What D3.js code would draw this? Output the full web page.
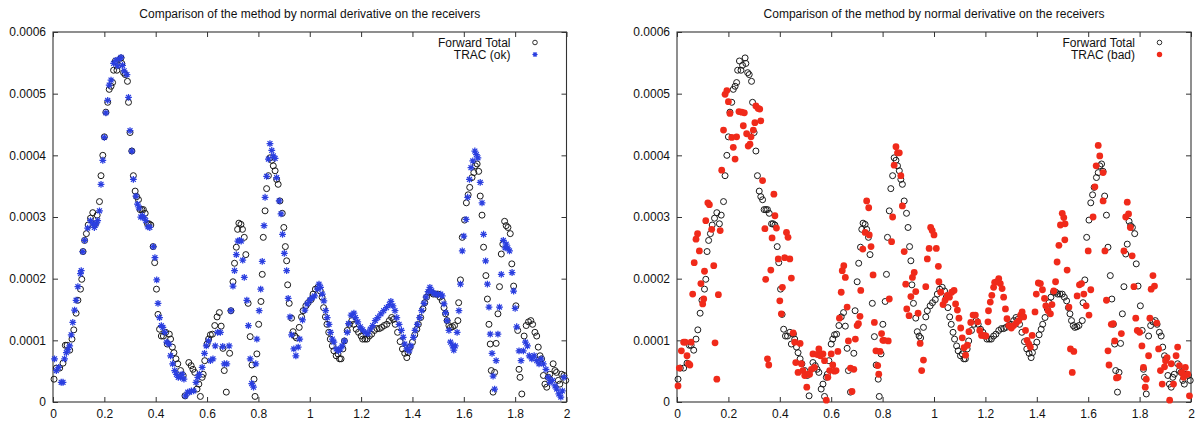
<!DOCTYPE html>
<html>
<head>
<meta charset="utf-8">
<script src="https://cdn.jsdelivr.net/npm/d3@7"></script>
<style>
  html, body { margin: 0; padding: 0; background: #fff; }
  svg { display: block; font-family: "Liberation Sans", Arial, Helvetica, sans-serif; }
</style>
</head>
<body>
<svg id="chart" width="1199" height="424"></svg>
<script>
// ---------------- DATA ----------------
const chartTitle = "Comparison of the method by normal derivative on the receivers";
const seriesNames = ["Forward Total", "TRAC (ok)", "TRAC (bad)"];
const xTicks = [0, 0.2, 0.4, 0.6, 0.8, 1, 1.2, 1.4, 1.6, 1.8, 2];
const xTickLabels = ["0", "0.2", "0.4", "0.6", "0.8", "1", "1.2", "1.4", "1.6", "1.8", "2"];
const yTicks = [0, 0.0001, 0.0002, 0.0003, 0.0004, 0.0005, 0.0006];
const yTickLabels = ["0", "0.0001", "0.0002", "0.0003", "0.0004", "0.0005", "0.0006"];

// Forward Total: [x, value]
const forwardTotal = [
[0.004,0.37e-4],[0.013,0.55e-4],[0.026,0.55e-4],[0.039,0.63e-4],[0.048,0.92e-4],[0.055,0.92e-4],[0.065,0.84e-4],
[0.074,1.02e-4],[0.081,1.17e-4],[0.090,1.44e-4],[0.097,1.65e-4],[0.107,1.83e-4],[0.112,1.99e-4],[0.117,2.44e-4],
[0.123,2.62e-4],[0.130,2.73e-4],[0.137,2.87e-4],[0.146,2.98e-4],[0.155,3.07e-4],[0.165,2.89e-4],[0.172,3.03e-4],
[0.181,3.25e-4],[0.187,3.67e-4],[0.194,4.00e-4],[0.200,4.30e-4],[0.206,4.70e-4],[0.213,4.86e-4],[0.219,5.07e-4],
[0.226,5.12e-4],[0.232,5.18e-4],[0.236,5.38e-4],[0.243,5.53e-4],[0.249,5.38e-4],[0.255,5.46e-4],[0.265,5.58e-4],
[0.268,5.49e-4],[0.275,5.34e-4],[0.281,5.31e-4],[0.290,5.20e-4],[0.294,4.86e-4],[0.300,4.37e-4],[0.307,4.07e-4],
[0.313,3.67e-4],[0.320,3.42e-4],[0.326,3.33e-4],[0.333,3.28e-4],[0.339,3.12e-4],[0.346,3.12e-4],[0.352,3.12e-4],
[0.359,3.06e-4],[0.368,2.89e-4],[0.374,2.89e-4],[0.381,2.87e-4],[0.390,2.52e-4],[0.396,2.26e-4],[0.403,1.83e-4],
[0.409,1.42e-4],[0.415,1.18e-4],[0.422,1.07e-4],[0.430,1.07e-4],[0.439,1.13e-4],[0.445,0.94e-4],[0.453,1.10e-4],
[0.458,1.02e-4],[0.465,0.89e-4],[0.471,0.80e-4],[0.479,0.70e-4],[0.486,0.62e-4],[0.497,0.51e-4],[0.507,0.43e-4],
[0.514,0.10e-4],[0.529,0.64e-4],[0.538,0.59e-4],[0.545,0.53e-4],[0.552,0.48e-4],[0.561,0.21e-4],[0.568,0.29e-4],
[0.574,0.09e-4],[0.581,0.40e-4],[0.585,0.45e-4],[0.591,0.67e-4],[0.600,0.94e-4],[0.606,1.02e-4],[0.613,1.09e-4],
[0.621,1.10e-4],[0.630,1.24e-4],[0.639,1.38e-4],[0.648,1.45e-4],[0.655,1.23e-4],[0.662,0.87e-4],[0.667,0.51e-4],
[0.675,0.16e-4],[0.688,0.79e-4],[0.693,1.48e-4],[0.701,1.95e-4],[0.707,2.25e-4],[0.714,2.51e-4],[0.719,2.80e-4],
[0.724,2.90e-4],[0.732,2.88e-4],[0.738,2.80e-4],[0.745,2.67e-4],[0.751,2.39e-4],[0.760,1.60e-4],[0.768,1.06e-4],
[0.775,0.60e-4],[0.783,0.37e-4],[0.787,0.09e-4],[0.794,0.78e-4],[0.801,1.26e-4],[0.810,1.63e-4],[0.815,2.07e-4],
[0.819,2.67e-4],[0.826,3.10e-4],[0.832,3.46e-4],[0.839,3.67e-4],[0.845,3.96e-4],[0.852,3.92e-4],[0.858,3.83e-4],
[0.865,3.75e-4],[0.871,3.61e-4],[0.877,3.53e-4],[0.884,3.26e-4],[0.893,3.06e-4],[0.899,2.83e-4],[0.905,2.52e-4],
[0.910,2.29e-4],[0.914,1.90e-4],[0.920,1.60e-4],[0.929,1.36e-4],[0.935,1.14e-4],[0.942,1.07e-4],[0.948,1.04e-4],
[0.959,1.21e-4],[0.968,1.38e-4],[0.974,1.48e-4],[0.985,1.56e-4],[0.994,1.61e-4],[1.005,1.66e-4],[1.013,1.75e-4],
[1.022,1.83e-4],[1.032,1.86e-4],[1.041,1.80e-4],[1.048,1.70e-4],[1.054,1.53e-4],[1.061,1.38e-4],[1.067,1.26e-4],
[1.074,1.13e-4],[1.080,1.02e-4],[1.088,0.91e-4],[1.094,0.83e-4],[1.103,0.75e-4],[1.110,0.78e-4],[1.116,0.70e-4],
[1.122,0.70e-4],[1.129,0.86e-4],[1.135,0.99e-4],[1.146,1.16e-4],[1.155,1.26e-4],[1.164,1.32e-4],[1.172,1.26e-4],
[1.181,1.18e-4],[1.190,1.13e-4],[1.200,1.07e-4],[1.206,1.02e-4],[1.215,1.02e-4],[1.223,1.02e-4],[1.232,1.07e-4],
[1.241,1.10e-4],[1.252,1.16e-4],[1.262,1.19e-4],[1.271,1.19e-4],[1.280,1.21e-4],[1.290,1.24e-4],[1.300,1.26e-4],
[1.310,1.32e-4],[1.319,1.37e-4],[1.326,1.34e-4],[1.333,1.26e-4],[1.342,1.13e-4],[1.352,0.98e-4],[1.361,0.86e-4],
[1.370,0.79e-4],[1.378,0.72e-4],[1.383,0.80e-4],[1.391,0.89e-4],[1.400,0.97e-4],[1.409,1.09e-4],[1.417,1.18e-4],
[1.423,1.26e-4],[1.432,1.37e-4],[1.441,1.51e-4],[1.448,1.61e-4],[1.455,1.70e-4],[1.465,1.78e-4],[1.474,1.78e-4],
[1.481,1.75e-4],[1.490,1.75e-4],[1.499,1.75e-4],[1.507,1.70e-4],[1.516,1.64e-4],[1.523,1.53e-4],[1.529,1.43e-4],
[1.535,1.32e-4],[1.542,1.24e-4],[1.548,1.21e-4],[1.556,1.22e-4],[1.564,1.24e-4],[1.577,1.32e-4],[1.580,1.61e-4],
[1.587,1.98e-4],[1.594,2.67e-4],[1.603,2.95e-4],[1.610,3.23e-4],[1.617,3.36e-4],[1.623,3.48e-4],[1.632,3.64e-4],
[1.639,3.72e-4],[1.645,3.83e-4],[1.652,3.86e-4],[1.658,3.74e-4],[1.664,3.34e-4],[1.671,3.03e-4],[1.677,2.51e-4],
[1.686,2.05e-4],[1.692,1.67e-4],[1.698,1.26e-4],[1.703,0.94e-4],[1.707,0.51e-4],[1.714,0.16e-4],[1.720,0.48e-4],
[1.726,0.95e-4],[1.733,1.43e-4],[1.739,1.87e-4],[1.746,2.40e-4],[1.752,2.56e-4],[1.759,2.93e-4],[1.765,2.86e-4],
[1.772,2.83e-4],[1.781,2.73e-4],[1.787,2.24e-4],[1.794,1.88e-4],[1.803,1.56e-4],[1.810,1.16e-4],[1.815,0.53e-4],
[1.819,0.40e-4],[1.826,0.13e-4],[1.835,1.07e-4],[1.843,1.24e-4],[1.852,1.30e-4],[1.861,1.32e-4],[1.868,1.26e-4],
[1.877,1.13e-4],[1.884,1.07e-4],[1.890,0.89e-4],[1.897,0.75e-4],[1.903,0.70e-4],[1.910,0.43e-4],[1.916,0.29e-4],
[1.923,0.24e-4],[1.929,0.40e-4],[1.935,0.45e-4],[1.948,0.62e-4],[1.955,0.51e-4],[1.961,0.48e-4],[1.968,0.35e-4],
[1.974,0.29e-4],[1.981,0.45e-4],[1.990,0.43e-4],[1.997,0.35e-4]
];

// TRAC (ok): [x, value]
const tracOk = [
[0.006,0.70e-4],[0.013,0.51e-4],[0.022,0.56e-4],[0.032,0.32e-4],[0.039,0.32e-4],[0.045,0.70e-4],[0.052,0.80e-4],
[0.058,0.85e-4],[0.065,0.91e-4],[0.071,1.09e-4],[0.077,1.29e-4],[0.084,1.49e-4],[0.090,1.65e-4],[0.097,1.87e-4],
[0.107,2.08e-4],[0.110,2.13e-4],[0.116,2.44e-4],[0.123,2.62e-4],[0.135,2.82e-4],[0.146,2.94e-4],[0.155,2.89e-4],
[0.161,2.83e-4],[0.168,2.89e-4],[0.174,2.94e-4],[0.181,3.10e-4],[0.187,3.53e-4],[0.194,3.92e-4],[0.200,4.29e-4],
[0.206,4.69e-4],[0.213,4.89e-4],[0.219,5.14e-4],[0.226,5.22e-4],[0.236,5.49e-4],[0.245,5.54e-4],[0.252,5.45e-4],
[0.258,5.56e-4],[0.265,5.59e-4],[0.271,5.46e-4],[0.277,5.37e-4],[0.288,5.31e-4],[0.294,4.94e-4],[0.300,4.40e-4],
[0.307,4.07e-4],[0.313,3.61e-4],[0.323,3.34e-4],[0.329,3.21e-4],[0.335,3.15e-4],[0.342,3.00e-4],[0.348,3.02e-4],
[0.355,2.99e-4],[0.361,2.94e-4],[0.370,2.84e-4],[0.377,2.83e-4],[0.391,2.52e-4],[0.397,2.34e-4],[0.404,1.98e-4],
[0.409,1.60e-4],[0.415,1.37e-4],[0.422,1.24e-4],[0.428,1.21e-4],[0.435,1.13e-4],[0.443,0.97e-4],[0.452,0.94e-4],
[0.458,0.75e-4],[0.466,0.62e-4],[0.474,0.51e-4],[0.481,0.45e-4],[0.488,0.40e-4],[0.497,0.40e-4],[0.503,0.45e-4],
[0.510,0.37e-4],[0.516,0.10e-4],[0.525,0.16e-4],[0.532,0.16e-4],[0.539,0.18e-4],[0.548,0.18e-4],[0.557,0.32e-4],
[0.564,0.40e-4],[0.570,0.45e-4],[0.581,0.56e-4],[0.590,0.79e-4],[0.597,0.91e-4],[0.606,0.99e-4],[0.613,0.67e-4],
[0.623,0.70e-4],[0.632,0.91e-4],[0.641,1.13e-4],[0.652,1.13e-4],[0.661,0.90e-4],[0.667,0.62e-4],[0.677,0.62e-4],
[0.686,0.91e-4],[0.693,1.48e-4],[0.701,1.88e-4],[0.707,2.13e-4],[0.714,2.39e-4],[0.720,2.61e-4],[0.726,2.62e-4],
[0.733,2.61e-4],[0.739,2.30e-4],[0.745,2.02e-4],[0.755,1.65e-4],[0.761,1.24e-4],[0.768,0.70e-4],[0.774,0.30e-4],
[0.781,0.24e-4],[0.790,0.62e-4],[0.794,1.02e-4],[0.803,1.48e-4],[0.809,1.83e-4],[0.815,2.28e-4],[0.822,2.86e-4],
[0.826,3.32e-4],[0.832,3.66e-4],[0.839,3.94e-4],[0.845,4.19e-4],[0.852,4.08e-4],[0.858,3.99e-4],[0.865,3.95e-4],
[0.871,3.64e-4],[0.881,3.26e-4],[0.888,3.05e-4],[0.894,2.72e-4],[0.901,2.41e-4],[0.910,2.13e-4],[0.916,1.68e-4],
[0.923,1.38e-4],[0.929,1.09e-4],[0.938,0.86e-4],[0.946,0.75e-4],[0.955,0.89e-4],[0.961,1.02e-4],[0.972,1.33e-4],
[0.981,1.49e-4],[0.990,1.59e-4],[1.000,1.65e-4],[1.009,1.69e-4],[1.019,1.72e-4],[1.030,1.83e-4],[1.036,1.91e-4],
[1.042,1.86e-4],[1.049,1.75e-4],[1.055,1.64e-4],[1.062,1.48e-4],[1.068,1.37e-4],[1.075,1.26e-4],[1.081,1.13e-4],
[1.088,1.02e-4],[1.094,0.97e-4],[1.103,0.86e-4],[1.112,0.83e-4],[1.119,0.86e-4],[1.126,0.91e-4],[1.135,0.99e-4],
[1.146,1.13e-4],[1.151,1.27e-4],[1.161,1.41e-4],[1.172,1.44e-4],[1.178,1.37e-4],[1.187,1.30e-4],[1.197,1.22e-4],
[1.206,1.17e-4],[1.216,1.13e-4],[1.226,1.11e-4],[1.236,1.18e-4],[1.245,1.24e-4],[1.255,1.32e-4],[1.265,1.37e-4],
[1.277,1.43e-4],[1.288,1.48e-4],[1.299,1.53e-4],[1.310,1.58e-4],[1.316,1.63e-4],[1.324,1.56e-4],[1.332,1.48e-4],
[1.339,1.37e-4],[1.348,1.26e-4],[1.357,1.16e-4],[1.364,1.05e-4],[1.370,0.94e-4],[1.378,0.86e-4],[1.387,0.83e-4],
[1.394,0.91e-4],[1.404,1.05e-4],[1.410,1.16e-4],[1.419,1.26e-4],[1.428,1.37e-4],[1.436,1.48e-4],[1.445,1.60e-4],
[1.453,1.70e-4],[1.461,1.79e-4],[1.468,1.86e-4],[1.475,1.80e-4],[1.484,1.76e-4],[1.492,1.75e-4],[1.501,1.74e-4],
[1.510,1.75e-4],[1.516,1.72e-4],[1.523,1.59e-4],[1.529,1.45e-4],[1.535,1.32e-4],[1.542,1.16e-4],[1.548,0.97e-4],
[1.556,0.91e-4],[1.561,0.84e-4],[1.567,0.91e-4],[1.574,1.13e-4],[1.581,1.48e-4],[1.587,1.91e-4],[1.594,2.45e-4],
[1.600,2.69e-4],[1.609,2.96e-4],[1.615,3.32e-4],[1.622,3.61e-4],[1.628,3.80e-4],[1.635,3.91e-4],[1.643,4.07e-4],
[1.649,4.01e-4],[1.655,3.96e-4],[1.664,3.56e-4],[1.671,3.23e-4],[1.677,2.72e-4],[1.685,2.29e-4],[1.692,1.91e-4],
[1.698,1.54e-4],[1.703,1.10e-4],[1.710,0.79e-4],[1.714,0.42e-4],[1.720,0.21e-4],[1.726,0.67e-4],[1.733,1.10e-4],
[1.739,1.54e-4],[1.746,2.07e-4],[1.754,2.62e-4],[1.761,2.50e-4],[1.765,2.56e-4],[1.771,2.50e-4],[1.778,2.45e-4],
[1.788,2.10e-4],[1.794,1.80e-4],[1.800,1.52e-4],[1.806,1.22e-4],[1.815,0.83e-4],[1.823,0.67e-4],[1.832,0.83e-4],
[1.840,0.97e-4],[1.848,0.91e-4],[1.855,0.75e-4],[1.865,0.70e-4],[1.874,0.75e-4],[1.884,0.67e-4],[1.893,0.62e-4],
[1.901,0.70e-4],[1.910,0.62e-4],[1.920,0.53e-4],[1.929,0.40e-4],[1.935,0.32e-4],[1.945,0.35e-4],[1.955,0.26e-4],
[1.962,0.21e-4],[1.970,0.13e-4],[1.978,0.08e-4],[1.984,0.18e-4],[1.990,0.40e-4]
];

// TRAC (bad): [x, value]
const tracBad = [
[0.004,0.26e-4],[0.009,0.55e-4],[0.017,0.83e-4],[0.026,0.97e-4],[0.032,0.97e-4],[0.039,0.75e-4],[0.045,0.62e-4],
[0.050,0.60e-4],[0.055,0.97e-4],[0.061,1.75e-4],[0.067,2.26e-4],[0.074,2.64e-4],[0.080,2.73e-4],[0.087,2.45e-4],
[0.093,1.92e-4],[0.100,1.59e-4],[0.104,1.67e-4],[0.107,2.12e-4],[0.112,2.94e-4],[0.120,3.23e-4],[0.126,3.20e-4],
[0.135,2.80e-4],[0.143,2.21e-4],[0.148,0.96e-4],[0.155,0.37e-4],[0.161,1.74e-4],[0.168,2.78e-4],[0.174,3.76e-4],
[0.181,4.41e-4],[0.187,4.99e-4],[0.194,5.05e-4],[0.200,4.87e-4],[0.206,4.68e-4],[0.213,4.29e-4],[0.219,4.13e-4],
[0.226,3.94e-4],[0.232,4.30e-4],[0.241,4.71e-4],[0.252,4.70e-4],[0.258,4.48e-4],[0.262,4.69e-4],[0.271,4.35e-4],
[0.277,4.15e-4],[0.284,4.18e-4],[0.288,4.30e-4],[0.297,4.41e-4],[0.303,4.53e-4],[0.307,4.80e-4],[0.316,4.76e-4],
[0.322,4.75e-4],[0.326,4.56e-4],[0.333,3.59e-4],[0.342,2.81e-4],[0.345,1.99e-4],[0.352,0.70e-4],[0.357,0.60e-4],
[0.365,2.14e-4],[0.370,2.66e-4],[0.377,3.37e-4],[0.381,3.02e-4],[0.387,2.82e-4],[0.394,2.32e-4],[0.400,1.64e-4],
[0.406,1.43e-4],[0.410,1.86e-4],[0.419,2.34e-4],[0.426,2.75e-4],[0.432,2.67e-4],[0.439,2.32e-4],[0.445,2.01e-4],
[0.452,1.12e-4],[0.458,0.97e-4],[0.462,0.64e-4],[0.471,0.48e-4],[0.479,0.95e-4],[0.484,0.62e-4],[0.490,0.51e-4],
[0.497,0.43e-4],[0.505,0.24e-4],[0.510,0.45e-4],[0.516,0.45e-4],[0.523,0.53e-4],[0.529,0.78e-4],[0.535,0.56e-4],
[0.546,0.77e-4],[0.552,0.86e-4],[0.558,0.75e-4],[0.568,0.78e-4],[0.574,0.67e-4],[0.581,0.03e-4],[0.587,0.40e-4],
[0.594,0.51e-4],[0.600,0.78e-4],[0.606,0.60e-4],[0.613,0.50e-4],[0.619,0.51e-4],[0.626,0.82e-4],[0.632,1.36e-4],
[0.639,1.78e-4],[0.643,2.13e-4],[0.649,2.21e-4],[0.655,2.02e-4],[0.662,1.54e-4],[0.667,0.99e-4],[0.675,0.55e-4],
[0.681,0.17e-4],[0.688,0.53e-4],[0.694,1.02e-4],[0.701,1.24e-4],[0.706,1.27e-4],[0.712,1.39e-4],[0.715,1.81e-4],
[0.723,2.48e-4],[0.732,2.75e-4],[0.738,3.26e-4],[0.746,3.15e-4],[0.748,2.71e-4],[0.755,2.52e-4],[0.763,2.06e-4],
[0.768,1.29e-4],[0.774,0.83e-4],[0.781,0.59e-4],[0.785,0.45e-4],[0.790,0.82e-4],[0.796,1.11e-4],[0.801,1.00e-4],
[0.806,1.00e-4],[0.822,0.99e-4],[0.826,1.67e-4],[0.835,2.60e-4],[0.839,3.00e-4],[0.845,3.84e-4],[0.852,4.14e-4],
[0.858,4.04e-4],[0.865,4.04e-4],[0.871,3.67e-4],[0.877,3.18e-4],[0.884,2.44e-4],[0.890,1.91e-4],[0.894,1.51e-4],
[0.903,1.40e-4],[0.910,1.71e-4],[0.916,2.02e-4],[0.923,2.10e-4],[0.929,1.79e-4],[0.938,1.44e-4],[0.946,0.95e-4],
[0.952,0.51e-4],[0.959,0.68e-4],[0.968,1.87e-4],[0.974,2.32e-4],[0.981,2.49e-4],[0.987,2.83e-4],[0.993,2.78e-4],
[1.000,2.71e-4],[1.009,2.49e-4],[1.017,2.20e-4],[1.019,1.95e-4],[1.026,1.78e-4],[1.035,1.58e-4],[1.043,1.65e-4],
[1.052,1.73e-4],[1.060,1.70e-4],[1.069,1.78e-4],[1.078,1.81e-4],[1.084,1.59e-4],[1.091,1.49e-4],[1.097,1.36e-4],
[1.104,1.20e-4],[1.110,1.04e-4],[1.117,0.88e-4],[1.123,0.76e-4],[1.130,0.92e-4],[1.136,1.14e-4],[1.143,1.29e-4],
[1.152,1.41e-4],[1.161,1.41e-4],[1.170,1.30e-4],[1.178,1.16e-4],[1.185,1.08e-4],[1.193,1.08e-4],[1.202,1.07e-4],
[1.210,1.30e-4],[1.212,1.48e-4],[1.219,1.62e-4],[1.225,1.73e-4],[1.232,1.86e-4],[1.236,1.94e-4],[1.245,1.95e-4],
[1.252,2.00e-4],[1.258,1.92e-4],[1.265,1.84e-4],[1.271,1.70e-4],[1.278,1.51e-4],[1.284,1.35e-4],[1.291,1.24e-4],
[1.301,1.20e-4],[1.310,1.24e-4],[1.320,1.28e-4],[1.330,1.32e-4],[1.337,1.41e-4],[1.343,1.46e-4],[1.349,1.38e-4],
[1.356,1.16e-4],[1.362,1.00e-4],[1.369,0.94e-4],[1.375,0.89e-4],[1.382,1.08e-4],[1.393,1.46e-4],[1.398,1.75e-4],
[1.406,1.93e-4],[1.414,1.92e-4],[1.422,1.82e-4],[1.430,1.68e-4],[1.435,1.56e-4],[1.444,1.48e-4],[1.453,1.43e-4],
[1.459,1.58e-4],[1.466,1.80e-4],[1.473,1.95e-4],[1.479,2.27e-4],[1.486,2.54e-4],[1.492,2.87e-4],[1.499,3.06e-4],
[1.505,2.99e-4],[1.510,2.89e-4],[1.509,2.63e-4],[1.518,2.14e-4],[1.525,1.54e-4],[1.531,0.86e-4],[1.538,0.48e-4],
[1.544,0.82e-4],[1.557,1.72e-4],[1.566,1.90e-4],[1.574,1.92e-4],[1.583,1.75e-4],[1.592,1.56e-4],[1.603,1.41e-4],
[1.610,1.82e-4],[1.600,2.45e-4],[1.619,3.00e-4],[1.626,3.49e-4],[1.631,3.83e-4],[1.639,4.16e-4],[1.645,3.99e-4],
[1.658,3.72e-4],[1.658,3.26e-4],[1.665,2.45e-4],[1.671,1.65e-4],[1.677,0.83e-4],[1.681,0.60e-4],[1.690,1.26e-4],
[1.697,1.27e-4],[1.703,0.99e-4],[1.710,0.39e-4],[1.716,0.40e-4],[1.729,1.11e-4],[1.739,2.45e-4],[1.746,3.00e-4],
[1.752,3.24e-4],[1.757,3.05e-4],[1.764,2.83e-4],[1.771,2.37e-4],[1.778,1.87e-4],[1.785,1.36e-4],[1.791,1.16e-4],
[1.800,1.13e-4],[1.809,0.91e-4],[1.815,0.56e-4],[1.822,0.24e-4],[1.826,0.37e-4],[1.835,0.75e-4],[1.840,1.36e-4],
[1.845,1.83e-4],[1.852,2.05e-4],[1.858,1.88e-4],[1.867,1.28e-4],[1.874,0.86e-4],[1.881,0.51e-4],[1.888,0.29e-4],
[1.897,0.57e-4],[1.901,0.67e-4],[1.907,0.72e-4],[1.917,0.03e-4],[1.923,0.62e-4],[1.932,0.29e-4],[1.942,0.75e-4],
[1.948,0.89e-4],[1.955,0.59e-4],[1.964,0.48e-4],[1.971,0.40e-4],[1.978,0.56e-4],[1.987,0.45e-4],[1.994,0.10e-4]
];

// ---------------- DRAWING ----------------
const svg = d3.select("#chart");
const TOP = 32, BOTTOM = 402;
const panels = [
  { left: 53, right: 566.5, trac: tracOk, traceName: seriesNames[1], kind: "star" },
  { left: 677, right: 1191, trac: tracBad, traceName: seriesNames[2], kind: "dot" }
];
const BLUE = "#2b3fe0", RED = "#f02a1a", INK = "#111";

function starPath(s) {
  const d = s * 0.72;
  return `M${-s},0H${s}M0,${-s}V${s}M${-d},${-d}L${d},${d}M${-d},${d}L${d},${-d}`;
}

panels.forEach(p => {
  const x = d3.scaleLinear().domain([0, 2]).range([p.left, p.right]);
  const y = d3.scaleLinear().domain([0, 0.0006]).range([BOTTOM, TOP]);
  const g = svg.append("g");

  // title
  g.append("text")
    .attr("x", (p.left + p.right) / 2).attr("y", 18)
    .attr("text-anchor", "middle").attr("font-size", 12).attr("fill", INK)
    .text(chartTitle);

  // axes (ticks inside, mirrored)
  const fmtX = (d) => xTickLabels[xTicks.indexOf(d)];
  const fmtY = (d) => yTickLabels[yTicks.indexOf(d)];
  const ax = [
    g.append("g").attr("transform", `translate(0,${BOTTOM})`)
      .call(d3.axisBottom(x).tickValues(xTicks).tickFormat(fmtX).tickSize(-5).tickPadding(7)),
    g.append("g").attr("transform", `translate(0,${TOP})`)
      .call(d3.axisTop(x).tickValues(xTicks).tickFormat("").tickSize(-5)),
    g.append("g").attr("transform", `translate(${p.left},0)`)
      .call(d3.axisLeft(y).tickValues(yTicks).tickFormat(fmtY).tickSize(-5).tickPadding(7)),
    g.append("g").attr("transform", `translate(${p.right},0)`)
      .call(d3.axisRight(y).tickValues(yTicks).tickFormat("").tickSize(-5))
  ];
  ax.forEach(a => {
    a.select(".domain").remove();
    a.selectAll("line").attr("stroke", "#333");
    a.selectAll("text").attr("font-size", 12).attr("fill", INK)
      .attr("font-family", "'Liberation Sans', Arial, sans-serif");
  });

  // frame
  g.append("rect")
    .attr("x", p.left).attr("y", TOP)
    .attr("width", p.right - p.left).attr("height", BOTTOM - TOP)
    .attr("fill", "none").attr("stroke", "#333").attr("stroke-width", 1.1);

  // Forward Total: open black circles
  g.append("g").selectAll("circle").data(forwardTotal).join("circle")
    .attr("cx", d => x(d[0])).attr("cy", d => y(d[1])).attr("r", 3.0)
    .attr("fill", "none").attr("stroke", "#1a1a1a").attr("stroke-width", 1);

  // TRAC series
  if (p.kind === "star") {
    g.append("g").selectAll("path").data(p.trac).join("path")
      .attr("transform", d => `translate(${x(d[0])},${y(d[1])})`)
      .attr("d", starPath(3.4))
      .attr("fill", "none").attr("stroke", BLUE).attr("stroke-width", 1.25);
  } else {
    g.append("g").selectAll("circle").data(p.trac).join("circle")
      .attr("cx", d => x(d[0])).attr("cy", d => y(d[1])).attr("r", 3.4)
      .attr("fill", RED);
  }

  // legend
  const lx = p.right - 56, sx = p.right - 31.5;
  g.append("text").attr("x", lx).attr("y", 46.5).attr("text-anchor", "end")
    .attr("font-size", 12).attr("fill", INK).text(seriesNames[0]);
  g.append("circle").attr("cx", sx).attr("cy", 42.5).attr("r", 2.3)
    .attr("fill", "none").attr("stroke", "#1a1a1a").attr("stroke-width", 0.9);
  g.append("text").attr("x", lx).attr("y", 58.5).attr("text-anchor", "end")
    .attr("font-size", 12).attr("fill", INK).text(p.traceName);
  if (p.kind === "star") {
    g.append("path").attr("transform", `translate(${sx},54.5)`).attr("d", starPath(2.6))
      .attr("fill", "none").attr("stroke", BLUE).attr("stroke-width", 1.2);
  } else {
    g.append("circle").attr("cx", sx).attr("cy", 54.5).attr("r", 2.7).attr("fill", RED);
  }
});
</script>
</body>
</html>
